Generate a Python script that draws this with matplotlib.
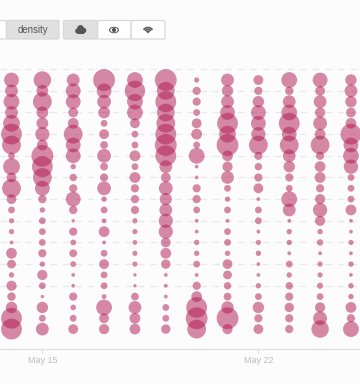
import numpy as np
import matplotlib
matplotlib.use('Agg')
import matplotlib.pyplot as plt
from matplotlib.patches import FancyBboxPatch, Rectangle, Circle, Ellipse, Arc

W, H = 360, 384

# circle radius (px) per hour row, one list per day
may14 = [7, 6, 7.5, 6, 8, 10, 9, 3, 8, 4.5, 9, 4.5, 3, 2.2, 2.2, 1.5, 5, 4, 2.3, 4.7, 3.8, 5.3, 10, 10]
may15 = [8.3, 5.5, 9, 5.5, 5.5, 6.7, 5, 10.5, 10, 9, 7, 3.8, 2.3, 3, 3, 3, 3.7, 2.3, 4.7, 3, 1.3, 5.3, 3, 6]
may16 = [6, 7, 7, 4.5, 5, 9, 7, 7, 2.3, 3.3, 3.7, 7, 3.8, 1.3, 3.7, 2.5, 3.5, 2.5, 1.5, 1.5, 3.7, 2.4, 3, 4.5]
may17 = [10.5, 7, 6.5, 5.5, 3, 4.5, 3.5, 6.5, 3.5, 3.7, 6.5, 2.3, 3, 2, 5, 1.5, 3, 4.5, 3, 3, 2, 7.5, 4.5, 4.7]
may18 = [7.5, 9.8, 7.5, 7.5, 4.5, 3, 3, 5, 3, 5, 3.7, 3.7, 3.7, 2.2, 2.2, 2, 2.2, 2.2, 1.3, 1.3, 3.5, 6, 5, 5]
may19 = [10.5, 8.5, 10, 8.5, 9, 10, 10.5, 10, 6, 4.5, 6.5, 5.7, 6, 6.7, 6.7, 4.5, 5, 4.3, 1.5, 1.5, 1.5, 3, 3, 4.3]
may20 = [2.2, 3.7, 3.7, 3, 4.5, 5, 3, 7.5, 1.5, 1.5, 3.7, 3.7, 3, 1.5, 1.5, 2.3, 2.3, 3, 1.5, 3.7, 5, 10, 10.5, 9]
may21 = [6, 5.3, 6, 7, 10, 8, 10.5, 5, 4.7, 6, 3, 2.3, 3, 1.5, 3, 3, 2.3, 4.5, 4, 3.3, 3.5, 5.8, 10.5, 4.7]
may22 = [4.5, 3.7, 5.3, 7, 7, 6.7, 9, 3.7, 3.3, 3.7, 4.5, 1.5, 3, 3, 1.5, 2.2, 2.3, 1.5, 1.5, 2.3, 3, 5.3, 3.7, 4.5]
may23 = [7.5, 3.8, 6, 7.5, 10, 7, 9, 6, 5.3, 3.7, 3, 7.5, 6, 1.5, 2.3, 2.3, 1.5, 3, 2.3, 3.3, 3.7, 4.3, 3.7, 3.7]
may24 = [7, 4.5, 6, 4.7, 6.5, 5, 9, 3.7, 5, 5, 3.7, 4.7, 6.7, 4.7, 2.3, 2.8, 1.5, 2.2, 2.2, 2.7, 3, 4.7, 6.5, 8.3]
may25 = [5.3, 6, 5.3, 4.5, 5, 10, 7, 7.5, 6.8, 3, 3, 3, 5, 1.5, 1.5, 2.2, 1.5, 2.3, 1.5, 2.3, 2.3, 5, 3.7, 7.5]

days = [14, 15, 16, 17, 18, 19, 20, 21, 22, 23, 24, 25]
columns = [may14, may15, may16, may17, may18, may19, may20, may21, may22, may23, may24, may25]
hours = list(range(24))
tick_days = [15, 22]
tick_labels = ['May 15', 'May 22']
grid_hours = [-1, 1, 3, 5, 7, 9, 11, 13, 15, 17, 19]

BG = '#fcfcfc'
PINK = '#b01550'
DPI = 100

fig = plt.figure(figsize=(W / DPI, H / DPI), dpi=DPI, facecolor=BG)
plt.rcParams['font.family'] = ['Liberation Sans', 'DejaVu Sans']

# the plot: axis bottom at y=348.5 px, top of frame at y=60 px
ax = fig.add_axes([0, 1 - 348.5 / H, 1, (348.5 - 60) / H], facecolor='none')
px_day = 30.86
px_row = 10.83
ax.set_xlim(14 - 11.5 / px_day, 14 + (W - 11.5) / px_day)
ax.set_ylim((348.5 - 80) / px_row, (60 - 80) / px_row)

for h in grid_hours:
    ax.axhline(h, color='#e8e8e8', lw=0.9, dashes=(5, 5), zorder=1)

for day, radii in zip(days, columns):
    # the soft rim of the reference adds a little to each radius
    r = np.array(radii) + 0.4
    s = (2 * r * 72 / DPI) ** 2
    ax.scatter([day] * len(hours), hours, s=s, color=PINK, alpha=0.5,
               linewidths=0, zorder=2, clip_on=False)

for side in ['top', 'left', 'right']:
    ax.spines[side].set_visible(False)
ax.spines['bottom'].set_color('#e2e2e2')
ax.spines['bottom'].set_linewidth(1.0)
ax.set_yticks([])
ax.set_xticks(tick_days)
ax.set_xticklabels(tick_labels, fontsize=6.5, color='#bdbdbd')
ax.tick_params(axis='x', length=3, width=0.8, color='#dddddd', pad=2.5)

# toolbar drawn in pixel coordinates
ui = fig.add_axes([0, 0, 1, 1], facecolor='none')
ui.set_xlim(0, W)
ui.set_ylim(H, 0)
ui.axis('off')


def button(x0, x1, active):
    ui.add_patch(FancyBboxPatch((x0, 20.5), x1 - x0, 18.5, boxstyle='round,pad=0,rounding_size=1.5',
                                fc='#e0e0e0' if active else '#ffffff', ec='#d8d8d8', lw=0.9))


button(-5, 6.5, False)
button(6.5, 59, True)
ui.text(32.5, 29.7, 'density', fontsize=6.9, color='#555555', ha='center', va='center')
button(131, 165, False)
button(97.5, 131, False)
button(63.5, 97.5, True)

# cloud
for cx, cy, cr in [(78, 31, 2.8), (80.5, 28.5, 3.4), (83.5, 30.5, 2.8)]:
    ui.add_patch(Circle((cx, cy), cr, fc='#555555', ec='none'))
ui.add_patch(Rectangle((77.5, 30), 6.5, 3.5, fc='#555555', ec='none'))

# eye
ui.add_patch(Ellipse((114, 30), 10, 6.5, fc='#555555', ec='none'))
ui.add_patch(Ellipse((114, 30), 7.6, 4.6, fc='white', ec='none'))
ui.add_patch(Circle((114, 30), 2.1, fc='#555555', ec='none'))

# wifi
for d in [11, 7.4, 3.8]:
    ui.add_patch(Arc((148, 33), d, d * 1.0, theta1=215, theta2=325, color='#555555', lw=1.1))
ui.add_patch(Circle((148, 32.4), 0.9, fc='#555555', ec='none'))

fig.savefig('out.png', dpi=DPI, facecolor=BG)
